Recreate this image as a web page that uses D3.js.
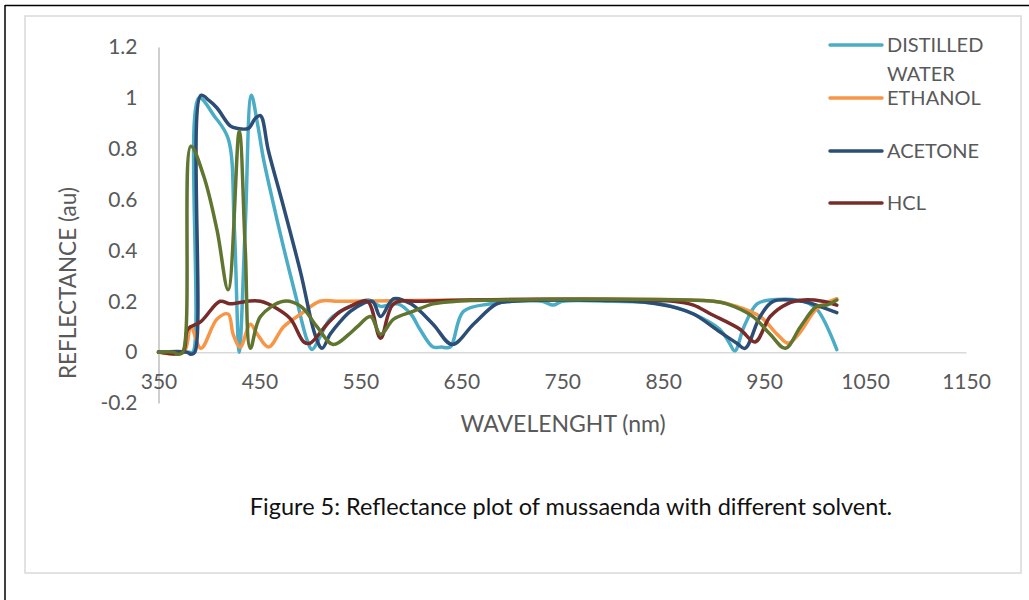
<!DOCTYPE html>
<html><head><meta charset="utf-8">
<script src="https://cdn.jsdelivr.net/npm/d3@7"></script>
<style>body{margin:0;background:#fff}svg{display:block}text{font-family:Lato,"Open Sans",sans-serif;fill:#595959}</style>
</head><body>
<svg id="c" width="1029" height="600"></svg>
<script>
const seriesNames = ["DISTILLED WATER","ETHANOL","ACETONE","HCL",""];
const seriesColors = ["#4BACC6","#F79646","#2C4D75","#772C2A","#5F7530"];
const xTicks = [350,450,550,650,750,850,950,1050,1150];
const yTicks = [-0.2,0,0.2,0.4,0.6,0.8,1,1.2];
const distilledWater = [[350,0],[380,0],[384,0],[390,1.0],[405,0.93],[419,0.84],[425,0.5],[430,0.0],[436,0.5],[442,1.01],[448,0.9],[454,0.76],[464,0.58],[474,0.41],[486,0.22],[497,0.05],[502,0.01],[510,0.06],[520,0.13],[540,0.18],[558,0.205],[570,0.18],[587,0.19],[600,0.15],[609,0.09],[622,0.02],[630,0.02],[639,0.02],[652,0.16],[679,0.19],[700,0.2],[730,0.2],[741,0.185],[750,0.2],[800,0.2],[847,0.19],[880,0.15],[906,0.09],[915,0.04],[921,0.005],[930,0.1],[943,0.19],[956,0.205],[989,0.2],[1002,0.17],[1022,0.01]];
const ethanol = [[350,0],[375,0],[382,0.1],[392,0.015],[408,0.13],[419,0.15],[424,0.07],[431,0.02],[441,0.11],[448,0.07],[459,0.02],[474,0.1],[491,0.15],[510,0.2],[530,0.2],[900,0.2],[923,0.18],[946,0.14],[963,0.07],[974,0.035],[986,0.08],[1002,0.17],[1022,0.21]];
const acetone = [[350,0],[378,0],[382,-0.008],[386,0],[392,1.01],[400,0.99],[408,0.96],[421,0.89],[428,0.88],[439,0.88],[446,0.92],[451,0.93],[459,0.79],[474,0.57],[491,0.31],[505,0.07],[512,0.015],[520,0.07],[530,0.12],[540,0.16],[552,0.19],[562,0.2],[570,0.14],[583,0.21],[600,0.19],[622,0.11],[641,0.03],[662,0.11],[685,0.19],[700,0.2],[820,0.2],[857,0.18],[880,0.15],[906,0.08],[923,0.035],[931,0.015],[946,0.14],[959,0.2],[988,0.2],[998,0.19],[1022,0.155]];
const hcl = [[350,0],[374,0],[379,0.09],[392,0.12],[411,0.2],[421,0.19],[438,0.2],[451,0.2],[468,0.17],[481,0.13],[494,0.04],[500,0.035],[517,0.11],[530,0.16],[540,0.18],[557,0.2],[570,0.055],[583,0.19],[612,0.2],[860,0.2],[880,0.185],[897,0.15],[926,0.09],[941,0.04],[956,0.14],[973,0.19],[989,0.205],[1008,0.2],[1022,0.185]];
const fifth = [[350,0],[365,0],[369,-0.008],[374,0],[382,0.81],[395,0.69],[408,0.48],[419,0.245],[430,0.87],[436,0.4],[441,0.015],[451,0.14],[474,0.2],[491,0.18],[507,0.1],[523,0.03],[540,0.075],[547,0.1],[560,0.14],[570,0.07],[583,0.13],[602,0.16],[622,0.19],[645,0.2],[900,0.2],[913,0.19],[939,0.14],[956,0.07],[971,0.015],[986,0.1],[1002,0.18],[1012,0.185],[1022,0.205]];
const allSeries = [distilledWater, ethanol, acetone, hcl, fifth];

const svg = d3.select("#c");
// outer frame
svg.append("line").attr("x1",5).attr("x2",1029).attr("y1",5.5).attr("y2",5.5).attr("stroke","#000").attr("stroke-width",1.5);
svg.append("line").attr("x1",5).attr("x2",5).attr("y1",5).attr("y2",600).attr("stroke","#000").attr("stroke-width",1.5);
svg.append("rect").attr("x",25).attr("y",16).attr("width",996).attr("height",557).attr("fill","none").attr("stroke","#d9d9d9").attr("stroke-width",1.5);

const x = d3.scaleLinear().domain([350,1150]).range([158.5,966]);
const y = d3.scaleLinear().domain([-0.2,1.2]).range([403,47]);

// y axis
const ya = svg.append("g").attr("transform",`translate(${x(350)},0)`)
  .call(d3.axisLeft(y).tickValues(yTicks).tickSize(0).tickPadding(21).tickFormat(d=>String(+d.toFixed(1))));
ya.select(".domain").attr("stroke","#bfbfbf").attr("stroke-width",1.5);
ya.selectAll("text").style("font-size","21px").style("font-family","Lato").attr("fill","#595959");
// x axis at y=0
const xa = svg.append("g").attr("transform",`translate(0,${y(0)})`)
  .call(d3.axisBottom(x).tickValues(xTicks).tickSize(0).tickPadding(22).tickFormat(d3.format("d")));
xa.select(".domain").attr("stroke","#d9d9d9").attr("stroke-width",1.5);
xa.selectAll("text").style("font-size","21px").style("font-family","Lato").attr("fill","#595959");

const line = d3.line().x(d=>x(d[0])).y(d=>y(d[1])).curve(d3.curveCatmullRom.alpha(0.5));
allSeries.forEach((s,i)=>{
  svg.append("path").datum(s).attr("d",line).attr("fill","none")
    .attr("stroke",seriesColors[i]).attr("stroke-width",3.5).attr("stroke-linejoin","round").attr("stroke-linecap","round");
});

// axis titles
svg.append("text").attr("transform","translate(76,283) rotate(-90)").attr("text-anchor","middle")
  .style("font-size","22.5px").text("REFLECTANCE (au)");
svg.append("text").attr("x",563).attr("y",432).attr("text-anchor","middle")
  .style("font-size","23px").text("WAVELENGHT (nm)");

// legend
const legY = [45,98,151,203];
seriesNames.slice(0,4).forEach((n,i)=>{
  svg.append("line").attr("x1",830).attr("x2",882).attr("y1",legY[i]).attr("y2",legY[i])
    .attr("stroke",seriesColors[i]).attr("stroke-width",3.5).attr("stroke-linecap","round");
  const parts = n==="DISTILLED WATER" ? ["DISTILLED","WATER"] : [n];
  parts.forEach((p,j)=>{
    svg.append("text").attr("x",887).attr("y",legY[i]+7+j*29).style("font-size","20px").text(p);
  });
});

// caption
svg.append("text").attr("x",571).attr("y",515).attr("text-anchor","middle")
  .style("font-size","23.5px").style("fill","#111").text("Figure 5: Reflectance plot of mussaenda with different solvent.");
</script>
</body></html>
